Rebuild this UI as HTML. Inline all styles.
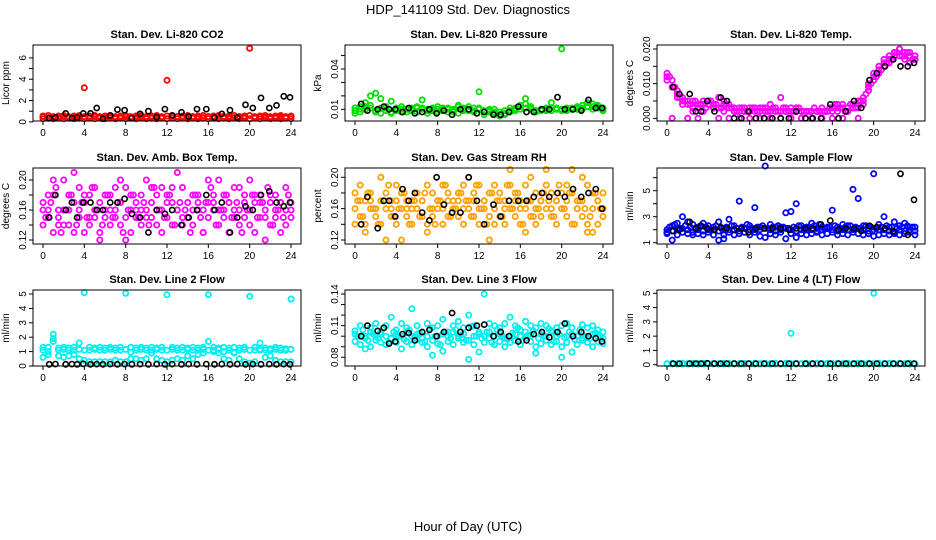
<!DOCTYPE html>
<html><head><meta charset="utf-8"><style>
html,body{margin:0;padding:0;background:#fff;}
svg{display:block;font-family:"Liberation Sans",sans-serif;}
</style></head><body>
<svg id="chart" width="936" height="540" viewBox="0 0 936 540" xmlns="http://www.w3.org/2000/svg">
<text x="468" y="14" text-anchor="middle" font-size="13">HDP_141109  Std. Dev. Diagnostics</text>
<text x="468" y="531" text-anchor="middle" font-size="13">Hour of Day (UTC)</text>
</svg>
<script>
const hours = [0,0.5,1,1.5,2,2.5,3,3.5,4,4.5,5,5.5,6,6.5,7,7.5,8,8.5,9,9.5,10,10.5,11,11.5,12,12.5,13,13.5,14,14.5,15,15.5,16,16.5,17,17.5,18,18.5,19,19.5,20,20.5,21,21.5,22,22.5,23,23.5,24];
const quarterHours = [0.25,0.75,1.25,1.75,2.25,2.75,3.25,3.75,4.25,4.75,5.25,5.75,6.25,6.75,7.25,7.75,8.25,8.75,9.25,9.75,10.25,10.75,11.25,11.75,12.25,12.75,13.25,13.75,14.25,14.75,15.25,15.75,16.25,16.75,17.25,17.75,18.25,18.75,19.25,19.75,20.25,20.75,21.25,21.75,22.25,22.75,23.25,23.75];
const blackHours = [0.6,1.2,2.2,2.8,3.3,3.9,4.6,5.2,5.8,6.5,7.2,7.9,8.6,9.4,10.2,11.0,11.8,12.5,13.4,14.1,14.9,15.8,16.6,17.3,18.1,18.8,19.6,20.3,21.1,21.9,22.6,23.3,23.9];
const xTicks = [0,4,8,12,16,20,24];

const co2A = [0.5,0.4,0.45,0.4,0.5,0.4,0.45,0.5,3.2,0.4,0.5,0.45,0.4,0.5,0.45,0.4,0.5,0.45,0.4,0.5,0.45,0.4,0.5,0.45,3.9,0.4,0.5,0.45,0.4,0.5,0.45,0.4,0.5,0.45,0.4,0.5,0.45,0.4,0.5,0.45,6.9,0.4,0.5,0.45,0.4,0.5,0.45,0.4,0.5];
const co2B = [0.3,0.35,0.3,0.35,0.3,0.35,0.3,0.35,0.3,0.35,0.3,0.35,0.3,0.35,0.3,0.35,0.3,0.35,0.3,0.35,0.3,0.35,0.3,0.35,0.3,0.35,0.3,0.35,0.3,0.35,0.3,0.35,0.3,0.35,0.3,0.35,0.3,0.35,0.3,0.35,0.3,0.35,0.3,0.35,0.3,0.35,0.3,0.35,0.3];
const co2C = [0.55,0.6,0.5,0.55,0.6,0.5,0.55,0.6,0.5,0.55,0.6,0.5,0.55,0.6,0.5,0.55,0.6,0.5,0.55,0.6,0.5,0.55,0.6,0.5,0.55,0.6,0.5,0.55,0.6,0.5,0.55,0.6,0.5,0.55,0.6,0.5,0.55,0.6,0.5,0.55,0.6,0.5,0.55,0.6,0.5,0.55,0.6,0.5,0.55];
const co2Black = [0.35,0.4,0.8,0.35,0.4,0.8,0.8,1.3,0.3,0.6,1.15,1.1,0.35,0.75,1.0,0.45,1.2,0.6,0.9,0.5,1.2,1.2,0.4,0.75,1.1,0.4,1.6,1.3,2.25,1.3,1.55,2.4,2.3];

const presA = [0.009,0.012,0.015,0.02,0.022,0.018,0.012,0.016,0.011,0.01,0.01,0.011,0.012,0.017,0.009,0.01,0.012,0.011,0.008,0.009,0.013,0.01,0.012,0.011,0.023,0.009,0.008,0.007,0.006,0.007,0.009,0.011,0.013,0.018,0.011,0.009,0.01,0.011,0.015,0.01,0.055,0.009,0.01,0.011,0.01,0.012,0.014,0.012,0.011];
const presB = [0.011,0.008,0.01,0.013,0.009,0.011,0.009,0.008,0.009,0.008,0.01,0.009,0.008,0.011,0.01,0.009,0.01,0.009,0.01,0.008,0.007,0.009,0.01,0.008,0.01,0.008,0.009,0.01,0.008,0.009,0.011,0.01,0.012,0.014,0.01,0.009,0.01,0.009,0.011,0.01,0.01,0.011,0.01,0.012,0.013,0.015,0.012,0.011,0.01];
const presC = [0.007,0.01,0.012,0.011,0.008,0.007,0.011,0.007,0.01,0.012,0.008,0.01,0.011,0.01,0.007,0.011,0.008,0.01,0.011,0.01,0.012,0.011,0.009,0.009,0.011,0.006,0.01,0.008,0.005,0.006,0.008,0.009,0.01,0.011,0.012,0.008,0.009,0.01,0.009,0.011,0.009,0.01,0.011,0.01,0.011,0.012,0.01,0.013,0.009];
const presBlack = [0.014,0.009,0.01,0.012,0.01,0.01,0.008,0.011,0.007,0.008,0.01,0.007,0.009,0.006,0.01,0.01,0.007,0.008,0.006,0.006,0.008,0.012,0.008,0.008,0.01,0.01,0.019,0.01,0.01,0.009,0.017,0.011,0.011];

const tempA = [0.013,0.011,0.008,0.006,0.005,0.005,0.004,0.005,0.005,0.004,0.006,0.005,0.004,0.003,0.003,0.003,0.003,0.003,0.003,0.003,0.004,0.003,0.006,0.003,0.003,0.003,0.002,0.002,0.002,0.002,0.002,0.002,0.003,0.003,0.004,0.003,0.004,0.005,0.006,0.009,0.013,0.015,0.016,0.018,0.019,0.02,0.019,0.018,0.018];
const tempB = [0.011,0.009,0.007,0.005,0.004,0.003,0.003,0.004,0.004,0.003,0.003,0.004,0.003,0.002,0.002,0.002,0.002,0.002,0.002,0.002,0.002,0.002,0.002,0.002,0.002,0.002,0.002,0.002,0.002,0.002,0.003,0.002,0.002,0.004,0.003,0.002,0.003,0.003,0.004,0.008,0.011,0.013,0.015,0.017,0.018,0.018,0.017,0.016,0.017];
const tempC = [0.012,0,0.006,0.004,0,0.002,0,0.002,0.005,0.003,0,0.002,0,0.002,0,0.002,0,0.003,0,0.002,0,0.002,0,0.002,0,0.002,0,0.002,0,0.002,0,0.002,0,0.002,0,0.002,0.003,0,0.005,0.01,0.012,0.014,0.017,0.016,0.019,0.02,0.018,0.019,0.017];
const tempD = [0.012,0.009,0.006,0.005,0.004,0.005,0.004,0.003,0.005,0.004,0.003,0.004,0.003,0.002,0.003,0.002,0.003,0.002,0.003,0.002,0.003,0.002,0.003,0.002,0.002,0.003,0.002,0.002,0.003,0.002,0.002,0.003,0.004,0.003,0.002,0.004,0.003,0.005,0.007,0.01,0.012,0.014,0.016,0.017,0.019,0.018,0.019,0.017];
const tempBlack = [0.009,0.007,0.007,0.002,0.002,0.005,0.002,0.006,0.005,0,0,0.002,0,0,0,0,0,0.002,0,0,0,0.004,0,0.002,0.005,0.003,0.011,0.013,0.015,0.017,0.015,0.015,0.016];

const ambA = [0.17,0.15,0.18,0.16,0.2,0.14,0.17,0.16,0.18,0.15,0.19,0.17,0.16,0.18,0.15,0.17,0.19,0.16,0.17,0.18,0.15,0.17,0.16,0.19,0.18,0.17,0.16,0.19,0.15,0.18,0.17,0.16,0.2,0.17,0.16,0.18,0.17,0.15,0.19,0.17,0.16,0.18,0.17,0.15,0.18,0.16,0.17,0.19,0.16];
const ambB = [0.14,0.16,0.13,0.15,0.14,0.16,0.13,0.15,0.17,0.14,0.15,0.13,0.15,0.14,0.16,0.14,0.15,0.13,0.15,0.14,0.16,0.15,0.14,0.13,0.15,0.14,0.16,0.14,0.15,0.14,0.16,0.13,0.15,0.16,0.14,0.15,0.13,0.16,0.14,0.15,0.14,0.13,0.15,0.16,0.14,0.15,0.13,0.14,0.15];
const ambC = [0.16,0.18,0.2,0.14,0.16,0.18,0.21,0.19,0.13,0.18,0.16,0.12,0.18,0.16,0.19,0.2,0.12,0.18,0.16,0.16,0.2,0.19,0.18,0.16,0.17,0.19,0.21,0.15,0.17,0.16,0.18,0.13,0.17,0.18,0.2,0.16,0.17,0.19,0.16,0.18,0.2,0.17,0.18,0.12,0.17,0.18,0.17,0.16,0.17];
const ambD = [0.15,0.17,0.19,0.13,0.16,0.18,0.14,0.17,0.15,0.19,0.16,0.14,0.18,0.15,0.17,0.13,0.16,0.18,0.15,0.17,0.14,0.19,0.16,0.15,0.18,0.14,0.17,0.16,0.13,0.18,0.15,0.17,0.19,0.14,0.16,0.18,0.15,0.17,0.13,0.16,0.18,0.15,0.17,0.19,0.14,0.16,0.15,0.18];
const ambBlack = [0.15,0.18,0.16,0.17,0.15,0.17,0.17,0.16,0.16,0.17,0.17,0.175,0.155,0.15,0.13,0.16,0.155,0.16,0.14,0.15,0.16,0.18,0.16,0.17,0.13,0.15,0.165,0.16,0.18,0.185,0.17,0.165,0.17];

const rhA = [0.18,0.19,0.17,0.18,0.16,0.2,0.18,0.17,0.19,0.18,0.17,0.16,0.18,0.17,0.19,0.18,0.17,0.19,0.18,0.17,0.18,0.19,0.17,0.18,0.19,0.17,0.18,0.19,0.18,0.17,0.19,0.18,0.17,0.19,0.2,0.18,0.17,0.19,0.18,0.17,0.18,0.19,0.18,0.17,0.2,0.19,0.18,0.17,0.18];
const rhB = [0.14,0.15,0.14,0.16,0.15,0.14,0.16,0.15,0.14,0.16,0.15,0.14,0.16,0.15,0.14,0.15,0.16,0.14,0.15,0.16,0.15,0.14,0.16,0.15,0.14,0.16,0.15,0.14,0.15,0.14,0.16,0.15,0.14,0.16,0.15,0.14,0.15,0.16,0.15,0.14,0.16,0.15,0.14,0.16,0.15,0.14,0.13,0.14,0.15];
const rhC = [0.16,0.17,0.13,0.17,0.16,0.17,0.12,0.16,0.17,0.12,0.16,0.17,0.16,0.17,0.13,0.16,0.17,0.16,0.17,0.16,0.17,0.16,0.2,0.17,0.16,0.17,0.12,0.16,0.17,0.16,0.21,0.17,0.16,0.13,0.17,0.16,0.17,0.21,0.16,0.17,0.16,0.17,0.21,0.16,0.17,0.13,0.16,0.17,0.16];
const rhD = [0.17,0.15,0.18,0.16,0.14,0.17,0.19,0.15,0.16,0.18,0.14,0.17,0.15,0.18,0.16,0.14,0.17,0.19,0.15,0.16,0.18,0.17,0.15,0.19,0.16,0.14,0.18,0.17,0.15,0.19,0.16,0.18,0.14,0.17,0.15,0.16,0.18,0.17,0.15,0.19,0.16,0.18,0.14,0.17,0.16,0.15,0.18,0.16];
const rhBlack = [0.14,0.175,0.135,0.17,0.17,0.15,0.185,0.17,0.18,0.155,0.145,0.2,0.165,0.155,0.155,0.2,0.17,0.14,0.165,0.15,0.17,0.17,0.17,0.175,0.18,0.175,0.18,0.175,0.185,0.175,0.18,0.185,0.16];

const flowA = [1.8,2.3,2.5,3,2.6,2.4,2.2,2.5,2.3,2.2,2.6,1.3,2.8,2.3,4.2,2.1,2.3,3.7,2.2,6.9,2.4,2.2,2.2,3.3,3.4,4,2.3,2.2,2.5,2.1,2.2,2.2,3.5,2.2,2.4,2.3,5.1,4.4,2.3,2.1,6.3,2.4,3,2.2,2.6,2.3,2.5,2.2,2.2];
const flowB = [2,1.9,2,2.1,2,1.8,2,1.9,2,2,1.9,2.1,2,2,1.9,2.1,2,2,2,2.1,2,1.9,2,2.1,2,1.9,2,2,2,1.9,2,2.1,2,1.9,2,2,2,2.1,2,1.9,2,2,2,1.9,1.8,2,1.9,2,1.9];
const flowC = [1.7,1.2,1.6,1.8,1.7,1.6,1.7,1.6,1.8,1.6,1.2,1.6,1.8,1.6,1.7,1.8,1.6,1.8,1.5,1.4,1.7,1.6,1.8,1.3,1.7,1.4,1.7,1.6,1.7,1.8,1.6,1.7,1.8,1.6,1.7,1.6,1.8,1.7,1.6,1.7,1.5,1.6,1.7,1.6,1.7,1.6,1.7,1.8,1.6];
const flowD = [2.2,2.4,2.1,2.3,2.2,2.1,2.3,2.2,2,2.3,2.1,2.2,2.3,2.1,2.2,2.4,2.1,2.2,2.3,2.1,2.2,2.3,2.2,2.1,2.2,2.3,2.1,2.2,2.3,2.4,2.1,2.2,2.3,2.1,2.2,2.3,2.2,2.1,2.3,2.2,2.1,2.2,2.3,2.2,2.1,2.2,2.3,2.2];
const flowBlack = [1.9,2,2.6,2.1,2.3,2.1,2,2.2,2.1,2,2.1,1.8,2.1,2.1,2.1,2.1,2,2.1,2.1,2.1,2.4,2.7,2,2.1,2.1,1.9,2.3,2.2,2.1,1.9,6.3,1.6,4.3];

const line2A = [1.3,1.3,1.9,1.25,1.3,1.25,1.3,1.6,5.1,1.3,1.25,1.3,1.25,1.3,1.25,1.3,5.05,1.3,1.25,1.3,1.25,1.3,1.25,1.3,4.95,1.3,1.25,1.3,1.25,1.3,1.25,1.3,4.95,1.3,1.25,1.3,1.25,1.3,1.25,1.3,4.85,1.3,1.6,1.25,1.2,1.3,1.25,1.2,4.65];
const line2B = [0.6,0.8,2.2,0.7,0.6,0.7,0.8,0.5,0.4,0.3,0.3,0.3,0.3,0.3,0.4,0.3,0.3,0.5,0.5,0.4,0.5,0.9,0.5,0.4,0.3,0.4,0.5,0.4,0.7,0.5,0.8,0.9,1.7,1,0.9,0.5,0.4,0.9,0.5,0.3,0.2,0.3,1.1,0.6,0.7,0.4,0.3,0.3,0.3];
const line2C = [1.1,1.0,1.7,1.1,1.15,1.1,1.1,1.15,1.1,1.1,1.15,1.1,1.1,1.15,1.1,1.1,1.15,0.95,1.1,1.15,1.1,1.1,1.15,1.1,1.1,1.15,1.1,1.1,1.15,1.1,1.1,1.15,1.1,1.1,1.15,1.0,1.1,0.95,1.1,1.15,1.1,1.1,1.15,1.1,1.1,1.15,1.1,1.1,1.15];
const line2Black = [0.12,0.13,0.12,0.13,0.12,0.15,0.12,0.13,0.12,0.13,0.12,0.13,0.12,0.13,0.12,0.13,0.12,0.13,0.12,0.13,0.12,0.13,0.12,0.13,0.12,0.13,0.12,0.13,0.12,0.13,0.12,0.13,0.12];

const line3A = [0.105,0.11,0.1,0.108,0.112,0.104,0.11,0.118,0.106,0.112,0.108,0.126,0.11,0.104,0.112,0.108,0.11,0.116,0.104,0.11,0.114,0.108,0.12,0.11,0.104,0.14,0.112,0.11,0.108,0.112,0.118,0.11,0.106,0.114,0.11,0.108,0.112,0.11,0.105,0.108,0.11,0.112,0.108,0.1,0.111,0.108,0.11,0.106,0.104];
const line3B = [0.095,0.092,0.098,0.09,0.096,0.094,0.092,0.098,0.094,0.088,0.095,0.092,0.097,0.094,0.09,0.096,0.093,0.086,0.095,0.092,0.098,0.094,0.096,0.092,0.085,0.094,0.098,0.092,0.095,0.09,0.094,0.096,0.092,0.098,0.095,0.09,0.093,0.096,0.092,0.095,0.09,0.094,0.085,0.092,0.096,0.094,0.09,0.095,0.093];
const line3C = [0.102,0.1,0.088,0.104,0.1,0.102,0.1,0.098,0.102,0.1,0.104,0.1,0.102,0.098,0.1,0.082,0.1,0.102,0.1,0.104,0.1,0.102,0.078,0.1,0.102,0.1,0.104,0.1,0.102,0.098,0.1,0.102,0.1,0.104,0.1,0.084,0.102,0.1,0.104,0.1,0.08,0.1,0.102,0.1,0.098,0.1,0.102,0.1,0.098];
const line3D = [0.1,0.106,0.096,0.102,0.098,0.108,0.094,0.104,0.1,0.097,0.106,0.099,0.103,0.095,0.107,0.1,0.092,0.104,0.098,0.106,0.101,0.096,0.109,0.1,0.098,0.104,0.094,0.106,0.1,0.097,0.103,0.108,0.096,0.101,0.105,0.098,0.1,0.107,0.095,0.102,0.099,0.104,0.097,0.106,0.1,0.098,0.103,0.1];
const line3Black = [0.1,0.11,0.105,0.108,0.093,0.095,0.102,0.103,0.096,0.104,0.106,0.1,0.104,0.122,0.104,0.108,0.11,0.111,0.1,0.104,0.1,0.095,0.096,0.102,0.104,0.099,0.104,0.112,0.1,0.104,0.1,0.098,0.095];

const line4A = [0.05,0.05,0.05,0.05,0.05,0.05,0.05,0.05,0.05,0.05,0.05,0.05,0.05,0.05,0.05,0.05,0.05,0.05,0.05,0.05,0.05,0.05,0.05,0.05,2.2,0.05,0.05,0.05,0.05,0.05,0.05,0.05,0.05,0.05,0.05,0.05,0.05,0.05,0.05,0.05,5,0.05,0.05,0.05,0.05,0.05,0.05,0.05,0.05];
const line4B = [0.08,0.1,0.08,0.1,0.08,0.1,0.08,0.1,0.08,0.1,0.08,0.1,0.08,0.1,0.08,0.1,0.08,0.1,0.08,0.1,0.08,0.1,0.08,0.1,0.08,0.1,0.08,0.1,0.08,0.1,0.08,0.1,0.08,0.1,0.08,0.1,0.08,0.1,0.08,0.1,0.08,0.1,0.08,0.1,0.08,0.1,0.08,0.1,0.08];
const line4Black = [0.08,0.08,0.08,0.08,0.08,0.1,0.08,0.08,0.08,0.08,0.08,0.08,0.08,0.08,0.08,0.08,0.08,0.08,0.08,0.08,0.08,0.08,0.08,0.08,0.08,0.08,0.08,0.08,0.08,0.08,0.08,0.08,0.08];

const svg = document.getElementById('chart');
const NS = 'http://www.w3.org/2000/svg';
function mk(tag, attrs, parent){ const e=document.createElementNS(NS,tag); for(const k in attrs) e.setAttribute(k,attrs[k]); (parent||svg).appendChild(e); return e; }

const panels = [
 {key:'co2',col:0,row:0,title:'Stan. Dev. Li-820 CO2',ylab:'Licor ppm',color:'#FF0000',v0:0,p0:121.9,v1:6,p1:57.9,ticks:[0,1,2,3,4,5,6],labels:['0','','2','','4','','6'],s:[co2A,co2B,co2C],d:null,k:co2Black},
 {key:'pressure',col:1,row:0,title:'Stan. Dev. Li-820 Pressure',ylab:'kPa',color:'#00E000',v0:0.01,p0:109.3,v1:0.04,p1:69,ticks:[0.01,0.02,0.03,0.04,0.05],labels:['0.01','','','0.04',''],s:[presA,presB,presC],d:null,k:presBlack},
 {key:'li820-temp',col:2,row:0,title:'Stan. Dev. Li-820 Temp.',ylab:'degrees C',color:'#FF00FF',v0:0,p0:118.3,v1:0.02,p1:49,ticks:[0,0.005,0.01,0.015,0.02],labels:['0.000','','0.010','','0.020'],s:[tempA,tempB,tempC],d:tempD,k:tempBlack},
 {key:'amb-box-temp',col:0,row:1,title:'Stan. Dev. Amb. Box Temp.',ylab:'degrees C',color:'#FF00FF',v0:0.12,p0:240,v1:0.2,p1:180,ticks:[0.12,0.14,0.16,0.18,0.2],labels:['0.12','','0.16','','0.20'],s:[ambA,ambB,ambC],d:ambD,k:ambBlack},
 {key:'gas-stream-rh',col:1,row:1,title:'Stan. Dev. Gas Stream RH',ylab:'percent',color:'#FFA000',v0:0.12,p0:240,v1:0.2,p1:177.3,ticks:[0.12,0.14,0.16,0.18,0.2],labels:['0.12','','0.16','','0.20'],s:[rhA,rhB,rhC],d:rhD,k:rhBlack},
 {key:'sample-flow',col:2,row:1,title:'Stan. Dev. Sample Flow',ylab:'ml/min',color:'#0000FF',v0:1,p0:242.7,v1:5,p1:190.7,ticks:[1,2,3,4,5,6],labels:['1','','3','','5',''],s:[flowA,flowB,flowC],d:flowD,k:flowBlack},
 {key:'line2-flow',col:0,row:2,title:'Stan. Dev. Line 2 Flow',ylab:'ml/min',color:'#00F0F0',v0:0,p0:366,v1:5,p1:294,ticks:[0,1,2,3,4,5],labels:['0','1','2','3','4','5'],s:[line2A,line2B,line2C],d:null,k:line2Black},
 {key:'line3-flow',col:1,row:2,title:'Stan. Dev. Line 3 Flow',ylab:'ml/min',color:'#00F0F0',v0:0.08,p0:357.3,v1:0.14,p1:294,ticks:[0.08,0.09,0.1,0.11,0.12,0.13,0.14],labels:['0.08','','','0.11','','','0.14'],s:[line3A,line3B,line3C],d:line3D,k:line3Black},
 {key:'line4-flow',col:2,row:2,title:'Stan. Dev. Line 4 (LT) Flow',ylab:'ml/min',color:'#00F0F0',v0:0,p0:364.7,v1:5,p1:293.3,ticks:[0,1,2,3,4,5],labels:['0','1','2','3','4','5'],s:[line4A,line4B],d:null,k:line4Black}
];
const rowTops=[45,168,290];

panels.forEach(p=>{
  const left=33+312*p.col, right=301+312*p.col, top=rowTops[p.row], bottom=top+76;
  const xs = h => left+10+h*(248/24);
  const ys = v => p.p0 + (v-p.v0)*(p.p1-p.p0)/(p.v1-p.v0);
  const g = mk('g',{});
  
  
  const t = mk('text',{x:(left+right)/2,y:top-7,'text-anchor':'middle','font-size':'11','font-weight':'bold'},g);
  
  
  t.textContent=p.title;
  const yl = mk('text',{x:0,y:0,'text-anchor':'middle','font-size':'10',transform:`translate(${left-24},${(top+bottom)/2}) rotate(-90)`},g);
  
  
  yl.textContent=p.ylab;
  const pts = mk('g',{},g);
  
  
  p.s.forEach(arr=>{
    arr.forEach((v,i)=>{
      const c=mk('circle',{cx:xs(hours[i]).toFixed(1),cy:ys(v).toFixed(1),r:2.6,fill:'none',stroke:p.color,'stroke-width':1.8},pts);
      
      
    });
  });
  if(p.d){
    p.d.forEach((v,i)=>{
      const c=mk('circle',{cx:xs(quarterHours[i]).toFixed(1),cy:ys(v).toFixed(1),r:2.6,fill:'none',stroke:p.color,'stroke-width':1.8},pts);
      
      
    });
  }
  p.k.forEach((v,i)=>{
    const c=mk('circle',{cx:xs(blackHours[i]).toFixed(1),cy:ys(v).toFixed(1),r:2.6,fill:'none',stroke:'#000','stroke-width':1.6},pts);
    
    
  });
  const box=mk('rect',{x:left,y:top,width:right-left,height:bottom-top,fill:'none',stroke:'#000','stroke-width':1},g);
  
  
  const xa=mk('g',{},g);
  
  
  mk('line',{x1:xs(0),x2:xs(24),y1:bottom,y2:bottom,stroke:'#000'},xa);
  xTicks.forEach(h=>{
    mk('line',{x1:xs(h),x2:xs(h),y1:bottom,y2:bottom+4,stroke:'#000'},xa);
    const tl=mk('text',{x:xs(h),y:bottom+15,'text-anchor':'middle','font-size':'10'},xa);
    
    
    tl.textContent=h;
  });
  const ya=mk('g',{},g);
  
  
  mk('line',{x1:left,x2:left,y1:ys(p.ticks[0]),y2:ys(p.ticks[p.ticks.length-1]),stroke:'#000'},ya);
  p.ticks.forEach((v,i)=>{
    const y=ys(v);
    mk('line',{x1:left-4,x2:left,y1:y,y2:y,stroke:'#000'},ya);
    if(p.labels[i]){
      const tl=mk('text',{x:0,y:0,'text-anchor':'middle','font-size':'10',transform:`translate(${left-7},${y}) rotate(-90)`},ya);
      
      
      tl.textContent=p.labels[i];
    }
  });
});
</script>
</body></html>
